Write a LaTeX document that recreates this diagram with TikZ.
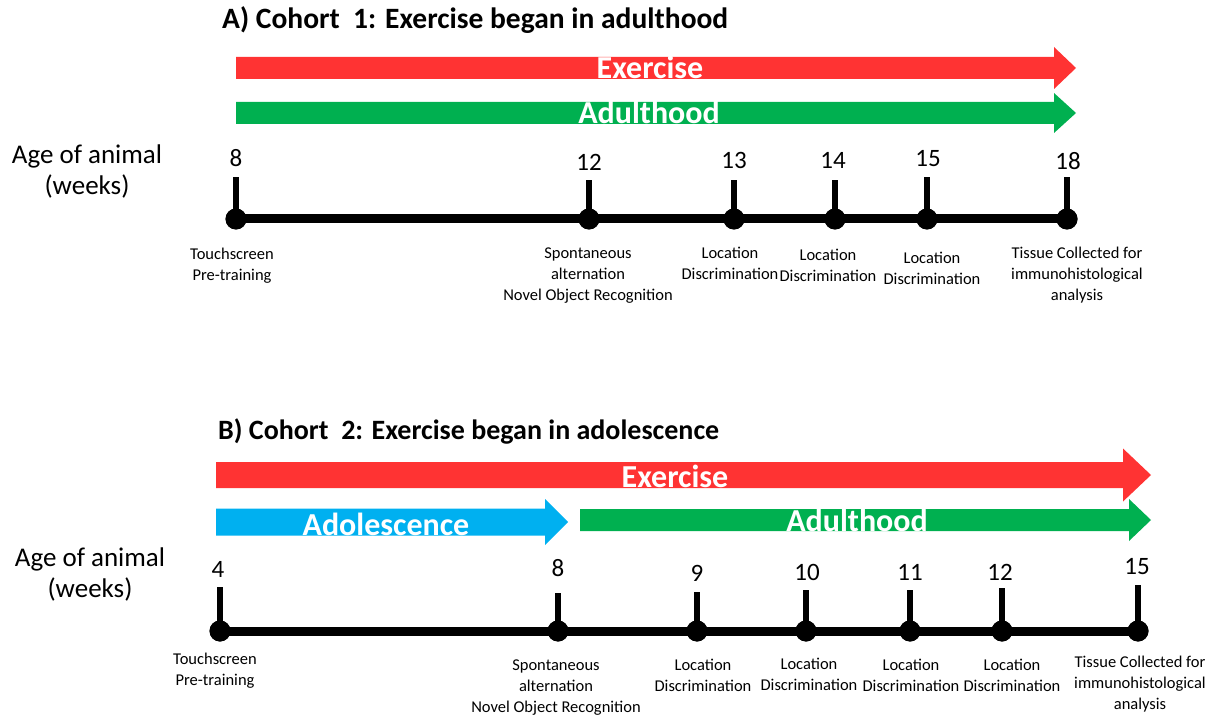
\documentclass[tikz,border=0pt]{standalone}
\usepackage{fontspec}
\setmainfont{Carlito}
\definecolor{exred}{RGB}{255,51,51}
\definecolor{adgreen}{RGB}{0,176,80}
\definecolor{adblue}{RGB}{0,176,240}
\newcommand\blockarrow[7]{%
  \fill[#7] (#1,#3-#4) -- (#2-#6,#3-#4) -- (#2-#6,#3-#5) -- (#2,#3) -- (#2-#6,#3+#5) -- (#2-#6,#3+#4) -- (#1,#3+#4) -- cycle;}
\tikzset{
  numlbl/.style={font=\fontsize{25}{30}\selectfont, inner sep=0pt},
  agelbl/.style={font=\fontsize{27}{31}\selectfont, align=center, inner sep=0pt},
  evlbl/.style={font=\fontsize{16.5}{21}\selectfont, align=center, inner sep=0pt},
  ttl/.style={font=\fontsize{29}{34}\selectfont\bfseries, anchor=west, inner sep=0pt},
  arrtxt/.style={text=white, font=\fontsize{32}{36}\selectfont\bfseries, inner sep=0pt, anchor=base},
  tldot/.style={circle, fill=black, inner sep=0pt, minimum size=21pt},
  tltick/.style={line width=6pt},
  tlaxis/.style={line width=9pt},
}
\begin{document}
\begin{tikzpicture}[x=1pt,y=-1pt]
\useasboundingbox (0,0) rectangle (1229,719);
% ---------- Panel A ----------
\node[ttl, font=\fontsize{29.5}{34}\selectfont\bfseries] (titleA) at (222,20) {A) Cohort\ \ 1: Exercise began in adulthood};
\blockarrow{236}{1076}{68}{11}{21}{22}{exred}
\blockarrow{236}{1076}{113}{11}{20}{22}{adgreen}
\node[arrtxt] (exA) at (650,79) {Exercise};
\node[arrtxt] (adA) at (649,124) {Adulthood};
\node[agelbl] (ageA) at (87,172) {Age of animal\\(weeks)};
% timeline A
\node[tldot] (a8) at (236,219) {};
\node[tldot] (a12) at (589,219) {};
\node[tldot] (a13) at (734,219) {};
\node[tldot] (a14) at (835,219) {};
\node[tldot] (a15) at (927,219) {};
\node[tldot] (a18) at (1067,219) {};
\draw[tlaxis] (a8.center) -- (a18.center);
\coordinate (a8t) at (236,177);
\coordinate (a12t) at (589,180);
\coordinate (a13t) at (734,180);
\coordinate (a14t) at (835,180);
\coordinate (a15t) at (927,177);
\coordinate (a18t) at (1067,177);
\foreach \n in {8,12,13,14,15,18}{\draw[tltick] (a\n.center) -- (a\n t);}
\foreach \n in {8,12,13,14,15,18}{\fill (a\n.center) circle (10.5pt);}
\node[numlbl] (na8) at (236,158) {8};
\node[numlbl] (na12) at (589,162) {12};
\node[numlbl] (na13) at (734,160) {13};
\node[numlbl] (na14) at (833,160) {14};
\node[numlbl] (na15) at (928,159) {15};
\node[numlbl] (na18) at (1068,161) {18};
\node[evlbl] (la8) at (232,266) {Touchscreen\\Pre-training};
\node[evlbl] (la12) at (588,276) {Spontaneous\\alternation\\Novel Object Recognition};
\node[evlbl] (la13) at (730,263) {Location\\Discrimination};
\node[evlbl] (la14) at (828,265) {Location\\Discrimination};
\node[evlbl] (la15) at (932,268) {Location\\Discrimination};
\node[evlbl] (la18) at (1077,275) {Tissue Collected for\\immunohistological\\analysis};
% ---------- Panel B ----------
\node[ttl, font=\fontsize{28}{34}\selectfont\bfseries] (titleB) at (218,431) {B) Cohort\ \ 2: Exercise began in adolescence};
\blockarrow{216}{1151}{475}{13}{26.5}{28}{exred}
\blockarrow{216}{568}{522}{13.5}{23}{23}{adblue}
\blockarrow{580}{1151}{520}{11}{21}{22}{adgreen}
\node[arrtxt] (exB) at (675,487) {Exercise};
\node[arrtxt] (adoB) at (386,535) {Adolescence};
\node[arrtxt] (adB) at (857,531) {Adulthood};
\node[agelbl] (ageB) at (90,574) {Age of animal\\(weeks)};
% timeline B
\node[tldot] (b4) at (220,631) {};
\node[tldot] (b8) at (558,631) {};
\node[tldot] (b9) at (697,631) {};
\node[tldot] (b10) at (806,631) {};
\node[tldot] (b11) at (910,631) {};
\node[tldot] (b12) at (1002,631) {};
\node[tldot] (b15) at (1138,631) {};
\draw[tlaxis] (b4.center) -- (b15.center);
\coordinate (b4t) at (220,587);
\coordinate (b8t) at (558,593);
\coordinate (b9t) at (697,592);
\coordinate (b10t) at (806,590);
\coordinate (b11t) at (910,590);
\coordinate (b12t) at (1002,588);
\coordinate (b15t) at (1138,585);
\foreach \n in {4,8,9,10,11,12,15}{\draw[tltick] (b\n.center) -- (b\n t);}
\foreach \n in {4,8,9,10,11,12,15}{\fill (b\n.center) circle (10.5pt);}
\node[numlbl] (nb4) at (218,569) {4};
\node[numlbl] (nb8) at (558,568) {8};
\node[numlbl] (nb9) at (697,573) {9};
\node[numlbl] (nb10) at (807,572) {10};
\node[numlbl] (nb11) at (910,572) {11};
\node[numlbl] (nb12) at (1000,572) {12};
\node[numlbl] (nb15) at (1137,567) {15};
\node[evlbl] (lb4) at (215,671) {Touchscreen\\Pre-training};
\node[evlbl] (lb8) at (556,688) {Spontaneous\\alternation\\Novel Object Recognition};
\node[evlbl] (lb9) at (703,675) {Location\\Discrimination};
\node[evlbl] (lb10) at (809,674) {Location\\Discrimination};
\node[evlbl] (lb11) at (911,675) {Location\\Discrimination};
\node[evlbl] (lb12) at (1012,675) {Location\\Discrimination};
\node[evlbl] (lb15) at (1140,684) {Tissue Collected for\\immunohistological\\analysis};
\end{tikzpicture}
\end{document}
